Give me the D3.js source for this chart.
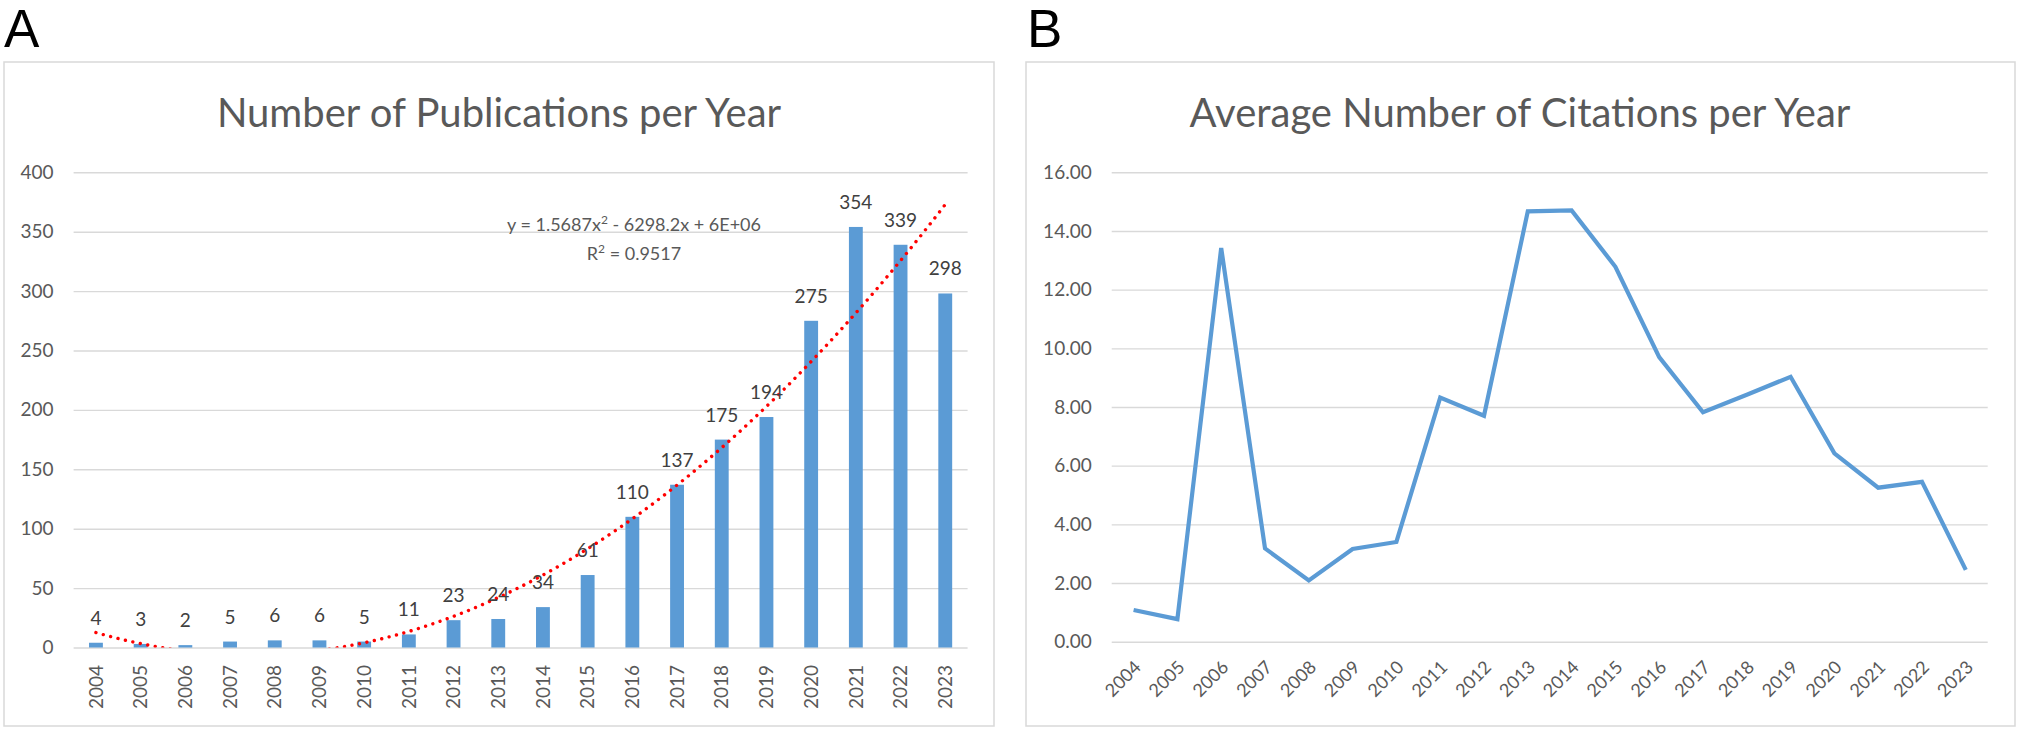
<!DOCTYPE html>
<html>
<head>
<meta charset="utf-8">
<script src="https://cdn.jsdelivr.net/npm/d3@7"></script>
<style>
body { margin: 0; background: #fff; }
svg { display: block; }
text { font-family: Lato, 'Open Sans', sans-serif; }
</style>
</head>
<body>
<div class="canvas"></div>
<script>
// ------------------------ data
const years = ['2004','2005','2006','2007','2008','2009','2010','2011','2012','2013',
               '2014','2015','2016','2017','2018','2019','2020','2021','2022','2023'];
const pubCounts = [4, 3, 2, 5, 6, 6, 5, 11, 23, 24, 34, 61, 110, 137, 175, 194, 275, 354, 339, 298];
const avgCitations = [1.08, 0.77, 13.42, 3.18, 2.09, 3.16, 3.40, 8.32, 7.70, 14.67,
                      14.70, 12.78, 9.70, 7.82, 8.42, 9.03, 6.42, 5.25, 5.45, 2.45];
const pubTicks = [0, 50, 100, 150, 200, 250, 300, 350, 400];
const citeTicks = [0, 2, 4, 6, 8, 10, 12, 14, 16];
const titleA = 'Number of Publications per Year';
const titleB = 'Average Number of Citations per Year';
const eqLine = ['y = 1.5687x', '2', ' - 6298.2x + 6E+06'];
const r2Line = ['R', '2', ' = 0.9517'];

const blue = '#5B9BD5';
const grid = '#D9D9D9';
const txt = '#595959';

const svg = d3.select('.canvas').append('svg')
  .attr('width', 2019)
  .attr('height', 731);

// ------------------------ panel frames + letters
const frames = [{x0: 4, x1: 994, letter: 'A', lx: 4}, {x0: 1026, x1: 2015, letter: 'B', lx: 1027}];
frames.forEach(f => {
  svg.append('rect')
    .attr('x', f.x0).attr('y', 62)
    .attr('width', f.x1 - f.x0).attr('height', 664)
    .attr('fill', 'none').attr('stroke', grid).attr('stroke-width', 1.5);
  svg.append('text')
    .attr('x', f.lx).attr('y', 47)
    .style('font-family', "'Liberation Sans', Arial, sans-serif")
    .style('font-size', '53px')
    .attr('fill', '#000')
    .text(f.letter);
});

// ======================== PANEL A: bars
const xA = d3.scaleBand().domain(years).range([73.6, 967.6]);
const yA = d3.scaleLinear().domain([0, 400]).range([647.5, 172.3]);
const gA = svg.append('g');

gA.append('text')
  .attr('x', 499).attr('y', 127)
  .attr('text-anchor', 'middle')
  .attr('fill', txt)
  .style('font-size', '40px')
  .text(titleA);

// gridlines + y labels
const yAxisA = d3.axisLeft(yA).tickValues(pubTicks).tickSize(-(967.6 - 73.6)).tickPadding(20);
gA.append('g')
  .attr('transform', 'translate(73.6,0)')
  .call(yAxisA)
  .call(g => g.select('.domain').remove())
  .call(g => g.selectAll('line').attr('stroke', grid).attr('stroke-width', 1.4))
  .call(g => g.selectAll('text').attr('fill', txt).style('font-size', '19px').style('font-family', 'Lato, sans-serif'));

// bars
const barW = xA.bandwidth() * 0.31;
gA.selectAll('rect.bar')
  .data(pubCounts)
  .enter().append('rect')
  .attr('class', 'bar')
  .attr('x', (d, i) => xA(years[i]) + (xA.bandwidth() - barW) / 2)
  .attr('y', d => yA(d))
  .attr('width', barW)
  .attr('height', d => yA(0) - yA(d))
  .attr('fill', blue);

// x labels (vertical)
gA.selectAll('text.year')
  .data(years)
  .enter().append('text')
  .attr('class', 'year')
  .attr('transform', d => `translate(${xA(d) + xA.bandwidth() / 2}, 665) rotate(-90)`)
  .attr('text-anchor', 'end')
  .attr('dy', '0.35em')
  .attr('fill', txt)
  .style('font-size', '19px')
  .text(d => d);

// quadratic trendline (least squares on the bar values)
const n = pubCounts.length;
const xs = d3.range(n).map(i => i - (n - 1) / 2);
const S = k => d3.sum(xs, x => Math.pow(x, k));
const T = k => d3.sum(xs, (x, i) => Math.pow(x, k) * pubCounts[i]);
// normal equations for a + b x + c x^2 (odd moments are zero when centred)
const s0 = n, s2 = S(2), s4 = S(4);
const c = (s0 * T(2) - s2 * T(0)) / (s0 * s4 - s2 * s2);
const a = (T(0) - c * s2) / s0;
const b = T(1) / s2;
const fit = x => a + b * x + c * x * x;

const stepA = xA.step();
const firstCx = xA(years[0]) + xA.bandwidth() / 2;
const trendPts = d3.range(0, n - 1 + 0.001, 0.02).map(t => [firstCx + t * stepA, fit(t - (n - 1) / 2)]);

svg.append('clipPath').attr('id', 'clipA')
  .append('rect').attr('x', 60).attr('y', 150).attr('width', 930).attr('height', yA(0) - 150);

gA.append('path')
  .datum(trendPts)
  .attr('clip-path', 'url(#clipA)')
  .attr('fill', 'none')
  .attr('stroke', '#FF0000')
  .attr('stroke-width', 3.4)
  .attr('stroke-linecap', 'round')
  .attr('stroke-dasharray', '0.01 7.6')
  .attr('d', d3.line().x(d => d[0]).y(d => yA(Math.max(d[1], -20))));

// data labels
gA.selectAll('text.val')
  .data(pubCounts)
  .enter().append('text')
  .attr('class', 'val')
  .attr('x', (d, i) => xA(years[i]) + xA.bandwidth() / 2)
  .attr('y', d => yA(d) - 18)
  .attr('text-anchor', 'middle')
  .attr('fill', '#404040')
  .style('font-size', '19px')
  .text(d => d);

// equation + R²
const eqRows = [{parts: eqLine, y: 231}, {parts: r2Line, y: 260}];
eqRows.forEach(r => {
  const t = gA.append('text')
    .attr('x', 634).attr('y', r.y)
    .attr('text-anchor', 'middle')
    .attr('fill', txt)
    .style('font-size', '18px');
  t.append('tspan').text(r.parts[0]);
  t.append('tspan').attr('dy', -7).style('font-size', '12px').text(r.parts[1]);
  t.append('tspan').attr('dy', 7).text(r.parts[2]);
});

// ======================== PANEL B: line
const xB = d3.scaleBand().domain(years).range([1111.7, 1987.7]);
const yB = d3.scaleLinear().domain([0, 16]).range([641.7, 172.3]);
const gB = svg.append('g');

gB.append('text')
  .attr('x', 1520).attr('y', 127)
  .attr('text-anchor', 'middle')
  .attr('fill', txt)
  .style('font-size', '40px')
  .text(titleB);

const yAxisB = d3.axisLeft(yB).tickValues(citeTicks).tickSize(-(1987.7 - 1111.7)).tickPadding(20)
  .tickFormat(d3.format('.2f'));
gB.append('g')
  .attr('transform', 'translate(1111.7,0)')
  .call(yAxisB)
  .call(g => g.select('.domain').remove())
  .call(g => g.selectAll('line').attr('stroke', grid).attr('stroke-width', 1.4))
  .call(g => g.selectAll('text').attr('fill', txt).style('font-size', '19px').style('font-family', 'Lato, sans-serif'));

gB.append('path')
  .datum(avgCitations)
  .attr('fill', 'none')
  .attr('stroke', blue)
  .attr('stroke-width', 4.2)
  .attr('stroke-linejoin', 'miter')
  .attr('d', d3.line()
    .x((d, i) => xB(years[i]) + xB.bandwidth() / 2)
    .y(d => yB(d)));

gB.selectAll('text.year')
  .data(years)
  .enter().append('text')
  .attr('class', 'year')
  .attr('transform', d => `translate(${xB(d) + xB.bandwidth() / 2 + 4}, 664) rotate(-45)`)
  .attr('text-anchor', 'end')
  .attr('dy', '0.35em')
  .attr('fill', txt)
  .style('font-size', '18px')
  .text(d => d);
</script>
</body>
</html>
